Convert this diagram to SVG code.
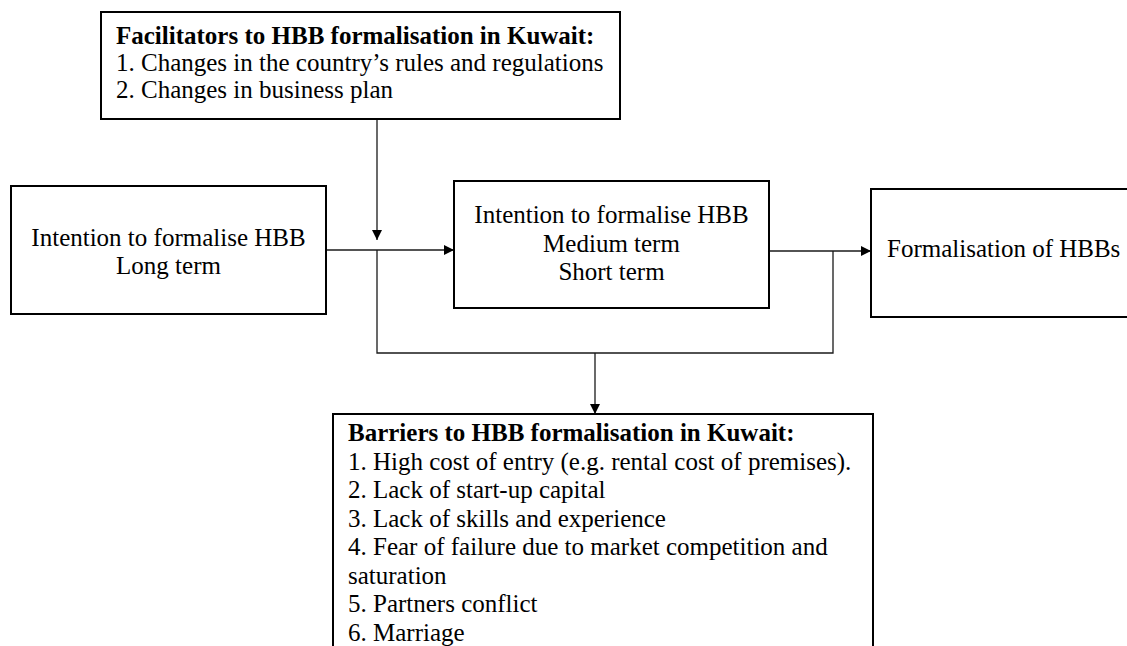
<svg xmlns="http://www.w3.org/2000/svg" width="1127" height="646" viewBox="0 0 1127 646">
  <style>
    .box { fill: #ffffff; stroke: #000000; stroke-width: 2; }
    .txt { font-family: "Liberation Serif", "Times New Roman", serif; font-size: 25px; fill: #000000; }
    .bold { font-weight: bold; }
    .mid { text-anchor: middle; }
    .link { fill: none; stroke: #1a1a1a; stroke-width: 1.3; }
  </style>
  <defs>
    <marker id="arrow" viewBox="0 0 10 10" refX="10" refY="5" markerWidth="10" markerHeight="10" markerUnits="userSpaceOnUse" orient="auto">
      <path d="M0,0 L10,5 L0,10 Z" fill="#000000"/>
    </marker>
  </defs>

  <rect width="1127" height="646" fill="#ffffff"/>

  <g id="connectors">
    <line class="link" x1="377" y1="119" x2="377" y2="240" marker-end="url(#arrow)"/>
    <line class="link" x1="327" y1="250" x2="454" y2="250" marker-end="url(#arrow)"/>
    <polyline class="link" points="377,250 377,353 833,353 833,251"/>
    <line class="link" x1="770" y1="251" x2="871" y2="251" marker-end="url(#arrow)"/>
    <line class="link" x1="595" y1="353" x2="595" y2="414" marker-end="url(#arrow)"/>
  </g>

  <g id="facilitators">
    <rect class="box" x="101" y="12" width="519" height="107"/>
    <text class="txt bold" x="116" y="44">Facilitators to HBB formalisation in Kuwait:</text>
    <text class="txt" x="116" y="71">1. Changes in the country’s rules and regulations</text>
    <text class="txt" x="116" y="98">2. Changes in business plan</text>
  </g>

  <g id="long-term">
    <rect class="box" x="11" y="186" width="315" height="128"/>
    <text class="txt mid" x="168.5" y="246">Intention to formalise HBB</text>
    <text class="txt mid" x="168.5" y="274">Long term</text>
  </g>

  <g id="medium-short-term">
    <rect class="box" x="454" y="181" width="315" height="127"/>
    <text class="txt mid" x="611.5" y="223">Intention to formalise HBB</text>
    <text class="txt mid" x="611.5" y="251.5">Medium term</text>
    <text class="txt mid" x="611.5" y="280">Short term</text>
  </g>

  <g id="formalisation">
    <rect class="box" x="871" y="189" width="260" height="128"/>
    <text class="txt" x="887" y="257">Formalisation of HBBs</text>
  </g>

  <g id="barriers">
    <rect class="box" x="333" y="414" width="540" height="250"/>
    <text class="txt bold" x="348" y="441">Barriers to HBB formalisation in Kuwait:</text>
    <text class="txt" x="348" y="469.5">1. High cost of entry (e.g. rental cost of premises).</text>
    <text class="txt" x="348" y="498">2. Lack of start-up capital</text>
    <text class="txt" x="348" y="526.5">3. Lack of skills and experience</text>
    <text class="txt" x="348" y="555">4. Fear of failure due to market competition and</text>
    <text class="txt" x="348" y="583.5">saturation</text>
    <text class="txt" x="348" y="612">5. Partners conflict</text>
    <text class="txt" x="348" y="640.5">6. Marriage</text>
  </g>
</svg>
